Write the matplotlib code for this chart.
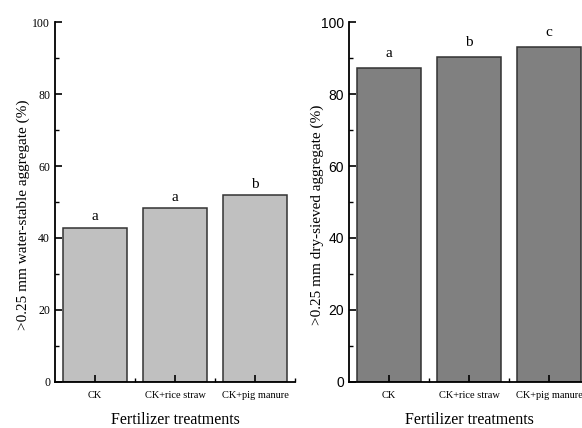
import numpy as np
from matplotlib import pyplot as plt
from matplotlib.ticker import MultipleLocator, FixedLocator

treatments = ['CK', 'CK+rice straw', 'CK+pig manure']
water_stable = [42.9, 48.3, 51.9]
water_letters = ['a', 'a', 'b']
dry_sieved = [87.2, 90.4, 93.2]
dry_letters = ['a', 'b', 'c']

serif = 'Liberation Serif'
sans = 'Liberation Sans'


def draw_panel(ax, values, letters, color, ylabel, ytick_font, gap):
    x = np.arange(len(treatments))
    ax.bar(x, values, width=0.8, color=color, edgecolor='#333333', linewidth=1.1)
    for xi, v, lt in zip(x, values, letters):
        ax.text(xi, v + gap, lt, ha='center', va='bottom', fontsize=11, family=serif)
    ax.set_xlim(-0.5, 2.5)
    ax.set_ylim(0, 100)
    ax.spines['top'].set_visible(False)
    ax.spines['right'].set_visible(False)
    ax.spines['left'].set_linewidth(1.3)
    ax.spines['bottom'].set_linewidth(1.3)
    ax.yaxis.set_major_locator(MultipleLocator(20))
    ax.yaxis.set_minor_locator(MultipleLocator(10))
    ax.set_xticks(x)
    ax.set_xticklabels(treatments, family=serif, fontsize=7.5)
    ax.xaxis.set_minor_locator(FixedLocator([0.5, 1.5, 2.5]))
    ax.tick_params(axis='both', which='major', direction='in', length=5, width=1.2)
    ax.tick_params(axis='both', which='minor', direction='in', length=3, width=1.0)
    ax.tick_params(axis='x', which='major', pad=7)
    for lab in ax.get_yticklabels():
        lab.set_family(ytick_font)
        lab.set_fontsize(8.5 if ytick_font == serif else 10)
    ax.set_ylabel(ylabel, family=serif, fontsize=11)
    ax.yaxis.set_label_coords(-0.105, 0.465)
    ax.set_xlabel('Fertilizer treatments', family=serif, fontsize=11.5, labelpad=8)


fig = plt.figure(figsize=(5.82, 4.28), dpi=100)
ax1 = fig.add_axes([0.0945, 0.108, 0.4124, 0.840])
ax2 = fig.add_axes([0.5997, 0.108, 0.4124, 0.840])

draw_panel(ax1, water_stable, water_letters, '#c0c0c0',
           '>0.25 mm water-stable aggregate (%)', serif, 1.2)
draw_panel(ax2, dry_sieved, dry_letters, '#808080',
           '>0.25 mm dry-sieved aggregate (%)', sans, 2.2)

fig.savefig('out.png', dpi=100)
